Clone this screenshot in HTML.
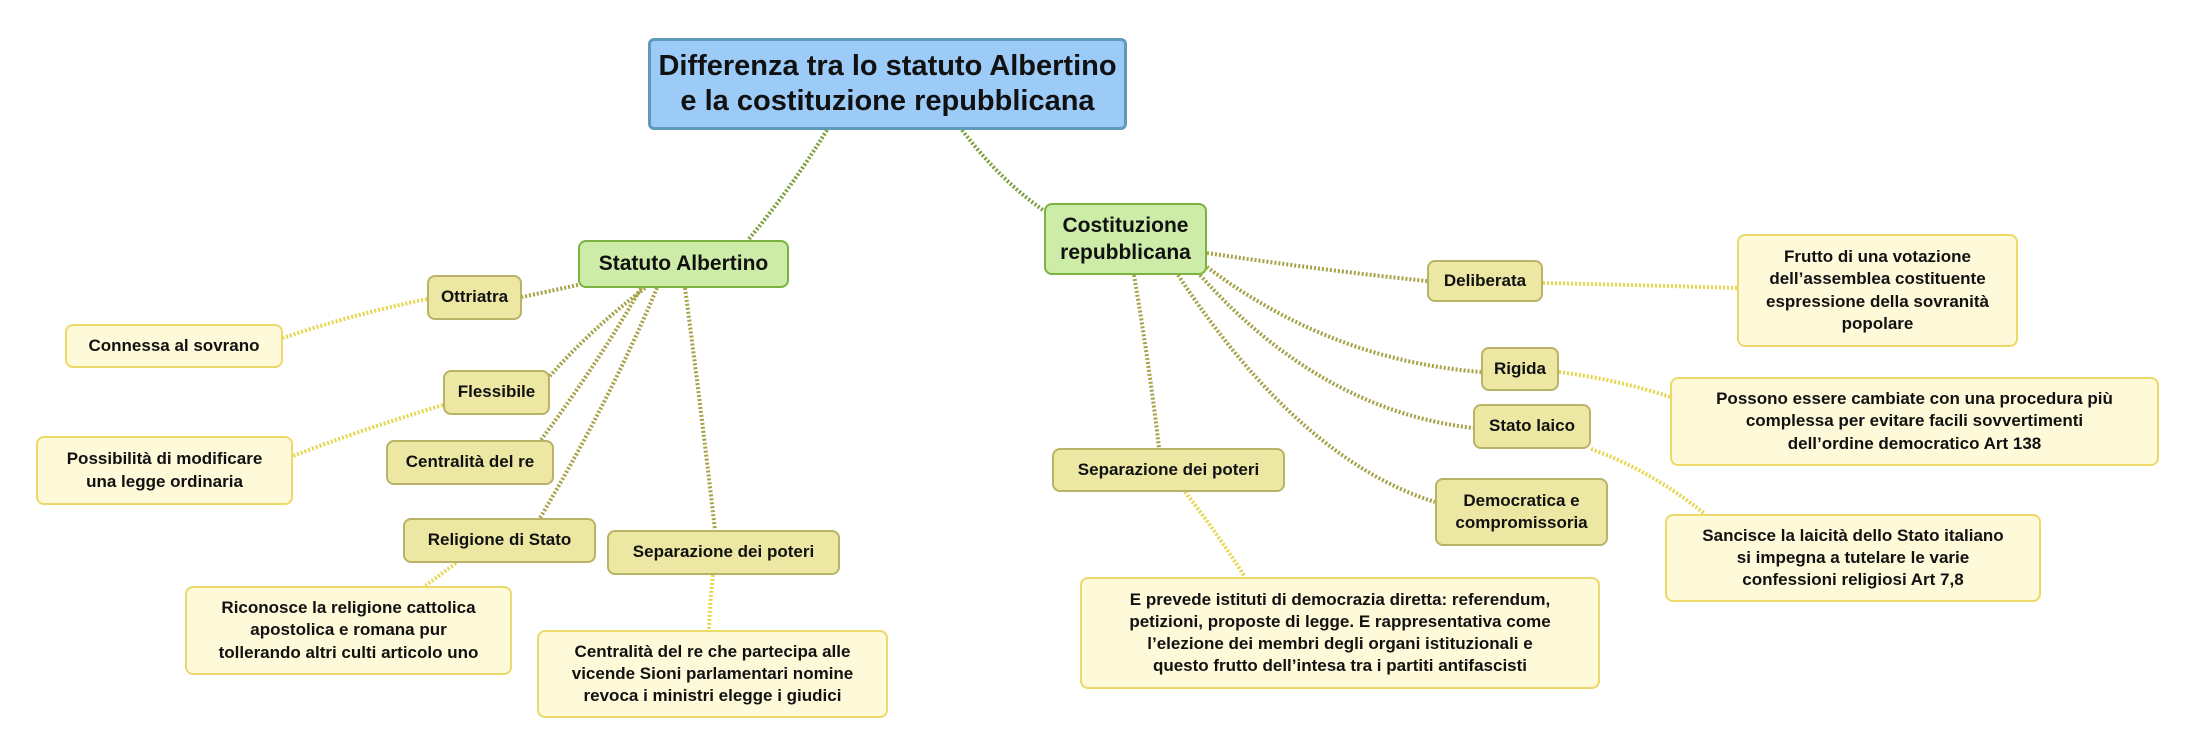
<!DOCTYPE html>
<html><head><meta charset="utf-8"><style>
body{margin:0;width:2200px;height:742px;background:#fff;position:relative;overflow:hidden;font-family:"Liberation Sans",sans-serif;font-weight:bold;color:#111}
.n{position:absolute;box-sizing:border-box;display:flex;align-items:center;justify-content:center;text-align:center;border-radius:8px;line-height:1.3}
.t{background:#9dcbf7;border:3px solid #5f9bb6;font-size:29px;line-height:1.22;border-radius:6px}
.m{background:#cdeca8;border:2px solid #7cb242;font-size:21px}
.s{background:#ece8a4;border:2px solid #b9b367;font-size:17px}
.l{background:#fef9d9;border:2px solid #ecd96a;font-size:17px}
svg{position:absolute;left:0;top:0}
</style></head><body>
<svg width="2200" height="742">
<g fill="none" stroke-width="4" stroke-dasharray="2 2">
<g stroke="#7a9e3a">
<path d="M827 130 Q790 190 748 240"/>
<path d="M962 130 Q1000 180 1043 210"/>
</g>
<g stroke="#a5a246">
<path d="M578 285 Q545 292 522 297"/>
<path d="M645 288 Q590 330 550 376"/>
<path d="M641 288 Q600 360 541 440"/>
<path d="M657 288 Q610 400 540 518"/>
<path d="M685 288 Q700 400 715 530"/>
<path d="M1207 253 Q1320 270 1427 281"/>
<path d="M1207 267 Q1330 360 1481 372"/>
<path d="M1200 275 Q1320 410 1473 428"/>
<path d="M1178 275 Q1300 460 1435 502"/>
<path d="M1134 275 Q1150 370 1159 448"/>
</g>
<g stroke="#e6d64c">
<path d="M427 299 Q350 315 283 338"/>
<path d="M443 405 Q360 430 293 456"/>
<path d="M456 563 Q440 575 425 586"/>
<path d="M713 575 Q710 600 709 630"/>
<path d="M1543 283 Q1640 285 1737 288"/>
<path d="M1559 372 Q1620 380 1670 397"/>
<path d="M1591 449 Q1650 470 1705 514"/>
<path d="M1185 492 Q1215 530 1245 577"/>
</g>
</g>
</svg>
<div class="n t" style="left:648px;top:38px;width:479px;height:92px">Differenza tra lo statuto Albertino<br>e la costituzione repubblicana</div>
<div class="n m" style="left:578px;top:240px;width:211px;height:48px">Statuto Albertino</div>
<div class="n m" style="left:1044px;top:203px;width:163px;height:72px">Costituzione<br>repubblicana</div>
<div class="n s" style="left:427px;top:275px;width:95px;height:45px">Ottriatra</div>
<div class="n l" style="left:65px;top:324px;width:218px;height:44px">Connessa al sovrano</div>
<div class="n s" style="left:443px;top:370px;width:107px;height:45px">Flessibile</div>
<div class="n l" style="left:36px;top:436px;width:257px;height:69px">Possibilità di modificare<br>una legge ordinaria</div>
<div class="n s" style="left:386px;top:440px;width:168px;height:45px">Centralità del re</div>
<div class="n s" style="left:403px;top:518px;width:193px;height:45px">Religione di Stato</div>
<div class="n s" style="left:607px;top:530px;width:233px;height:45px">Separazione dei poteri</div>
<div class="n l" style="left:185px;top:586px;width:327px;height:89px">Riconosce la religione cattolica<br>apostolica e romana pur<br>tollerando altri culti articolo uno</div>
<div class="n l" style="left:537px;top:630px;width:351px;height:88px">Centralità del re che partecipa alle<br>vicende Sioni parlamentari nomine<br>revoca i ministri elegge i giudici</div>
<div class="n s" style="left:1427px;top:260px;width:116px;height:42px">Deliberata</div>
<div class="n l" style="left:1737px;top:234px;width:281px;height:113px">Frutto di una votazione<br>dell’assemblea costituente<br>espressione della sovranità<br>popolare</div>
<div class="n s" style="left:1481px;top:347px;width:78px;height:44px">Rigida</div>
<div class="n l" style="left:1670px;top:377px;width:489px;height:89px">Possono essere cambiate con una procedura più<br>complessa per evitare facili sovvertimenti<br>dell’ordine democratico Art 138</div>
<div class="n s" style="left:1473px;top:404px;width:118px;height:45px">Stato laico</div>
<div class="n s" style="left:1052px;top:448px;width:233px;height:44px">Separazione dei poteri</div>
<div class="n s" style="left:1435px;top:478px;width:173px;height:68px">Democratica e<br>compromissoria</div>
<div class="n l" style="left:1665px;top:514px;width:376px;height:88px">Sancisce la laicità dello Stato italiano<br>si impegna a tutelare le varie<br>confessioni religiosi Art 7,8</div>
<div class="n l" style="left:1080px;top:577px;width:520px;height:112px">E prevede istituti di democrazia diretta: referendum,<br>petizioni, proposte di legge. E rappresentativa come<br>l’elezione dei membri degli organi istituzionali e<br>questo frutto dell’intesa tra i partiti antifascisti</div>
</body></html>
